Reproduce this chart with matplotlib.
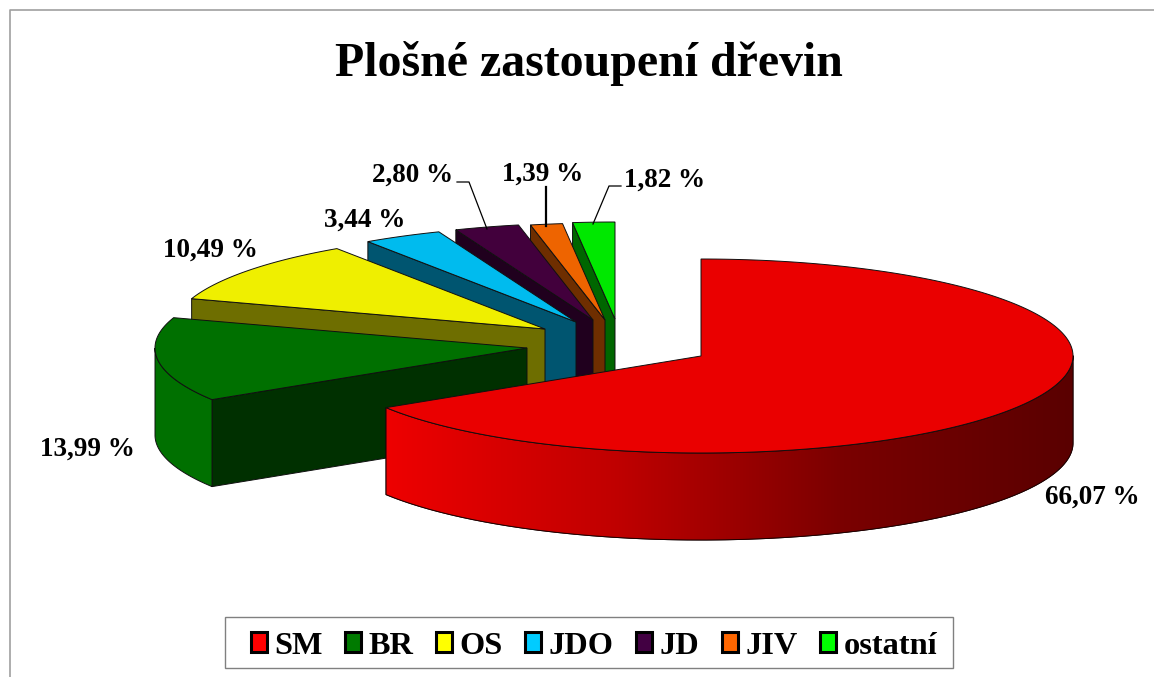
import numpy as np
import matplotlib
matplotlib.use('Agg')
import matplotlib.pyplot as plt
from matplotlib.colors import LinearSegmentedColormap
from matplotlib.patches import Patch, Polygon, Rectangle

plt.rcParams['font.family'] = ['Liberation Serif', 'DejaVu Serif']
plt.rcParams['font.weight'] = 'bold'

names = ['SM', 'BR', 'OS', 'JDO', 'JD', 'JIV', 'ostatní']
values = [66.07, 13.99, 10.49, 3.44, 2.80, 1.39, 1.82]

top_colors = ['#EA0000', '#007000', '#EFEF00', '#00BBEE', '#42003C', '#EE6400', '#00E800']
wall_colors = ['#EA0000', '#003000', '#6E6E00', '#005570', '#20001E', '#6E2E00', '#006600']
rim_colors = ['#EA0000', '#007000', '#6E6E00', '#005570', '#20001E', '#6E2E00', '#006600']
legend_colors = ['#FF0000', '#007A00', '#FFFF00', '#00CCFF', '#420042', '#FF6600', '#00FF00']

# apex of each exploded slice, in pixels
apex = [(701, 356), (527, 348), (545, 329), (576, 322), (593, 320), (605, 320), (615, 319)]
rx, ry, depth = 372, 97, 87

label_pos = [(1092, 497), (87, 449), (210, 250), (365, 220), (413, 175), (543, 174), (665, 180)]


def rim(c, t1, t2):
    t = np.radians(np.linspace(t1, t2, 200))
    return np.column_stack([c[0] + rx*np.sin(t), c[1] - ry*np.cos(t)])


fig = plt.figure(figsize=(11.54, 6.77), dpi=100)
ax = fig.add_axes([0, 0, 1, 1])
ax.set_xlim(0, 1154)
ax.set_ylim(677, 0)
ax.axis('off')

# chart frame
ax.plot([10, 10, 1154], [677, 10, 10], color='#A0A0A0', lw=1.2, zorder=1)

edges = np.cumsum([0] + values) * 3.6
zo = 2
for i in range(len(values) - 1, -1, -1):
    c = apex[i]
    t1, t2 = edges[i], edges[i+1]
    top = rim(c, t1, t2)
    if i > 0:
        # cut face at the start of the slice
        p = top[0]
        face = [c, p, (p[0], p[1] + depth), (c[0], c[1] + depth)]
        ax.add_patch(Polygon(face, fc=wall_colors[i], ec='#101010', lw=0.7, zorder=zo))
        zo += 1
    a, b = max(t1, 90), min(t2, 270)
    if a < b:
        arc = rim(c, a, b)
        low = arc[::-1] + [0, depth]
        wall = Polygon(np.vstack([arc, low]), fc=rim_colors[i], ec='#101010', lw=0.7, zorder=zo)
        ax.add_patch(wall)
        zo += 1
        if i == 0:
            cmap = LinearSegmentedColormap.from_list('wall', ['#5A0000', '#7A0000', '#C00000', '#EE0000'])
            grad = np.linspace(0, 1, 256).reshape(1, -1)
            im = ax.imshow(grad, cmap=cmap, extent=(1073, 386, 545, 350), aspect='auto', zorder=zo)
            im.set_clip_path(wall)
            ax.plot(*np.vstack([arc, low, arc[:1]]).T, color='#200000', lw=0.7, zorder=zo)
            ax.set_xlim(0, 1154)
            ax.set_ylim(677, 0)
            zo += 1
    ax.add_patch(Polygon(np.vstack([[c], top]), fc=top_colors[i], ec='#101010', lw=0.7, zorder=zo))
    zo += 1

# leader lines
ax.plot([457, 469, 487], [182, 182, 229], color='black', lw=0.9, zorder=zo)
ax.plot([546, 546], [187, 226], color='black', lw=1.6, zorder=zo)
ax.plot([621, 609, 593], [186, 186, 224], color='black', lw=0.9, zorder=zo)

for v, (x, y) in zip(values, label_pos):
    ax.text(x, y, f'{v:.2f} %'.replace('.', ','), ha='center', va='center', fontsize=19.5,
            fontweight='bold', color='black', zorder=zo)

ax.text(589, 63, 'Plošné zastoupení dřevin', ha='center', va='center', fontsize=34.5,
        fontweight='bold', color='black')

# legend box
ax.add_patch(Rectangle((225, 617), 728, 51, fc='white', ec='#808080', lw=1.0, zorder=zo))
handles = [Patch(fc=col, ec='black', lw=2.2, label=n) for n, col in zip(names, legend_colors)]
leg = ax.legend(handles=handles, ncol=7, loc='center', bbox_to_anchor=(594/1154, 1 - 646/677),
                prop={'size': 23.3, 'weight': 'bold'}, frameon=False,
                handlelength=0.5, handleheight=0.55,
                handletextpad=0.22, columnspacing=0.70, borderpad=0, borderaxespad=0)
leg.set_zorder(zo + 1)

fig.savefig('out.png', dpi=100)
